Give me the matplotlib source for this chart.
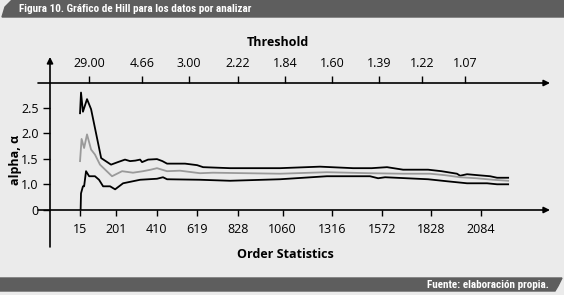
import numpy as np
import matplotlib
matplotlib.use("Agg")
import matplotlib.pyplot as plt
from matplotlib.patches import Polygon
from matplotlib import font_manager

plt.rcParams['font.family'] = ['Open Sans', 'DejaVu Sans']

# Hill plot data (order statistic k, alpha)
upper_k = [15, 20, 30, 51, 72, 124, 175, 210, 247, 273, 300, 325, 335, 366, 412, 440, 464,
           557, 619, 650, 789, 1047, 1253, 1424, 1520, 1599, 1682, 1811, 1880, 1960, 1976,
           2012, 2070, 2131, 2167, 2224]
upper_a = [2.40, 2.81, 2.43, 2.68, 2.48, 1.51, 1.38, 1.43, 1.48, 1.45, 1.46, 1.48, 1.43, 1.48,
           1.49, 1.45, 1.40, 1.40, 1.37, 1.33, 1.31, 1.31, 1.34, 1.31, 1.31, 1.33, 1.28, 1.28,
           1.25, 1.20, 1.16, 1.19, 1.17, 1.15, 1.12, 1.12]

mid_k = [15, 23, 36, 51, 72, 92, 118, 134, 180, 232, 288, 340, 380, 412, 464, 531, 634, 701,
         1047, 1289, 1511, 1682, 1821, 1900, 1976, 2060, 2146, 2224]
mid_a = [1.45, 1.89, 1.71, 1.98, 1.68, 1.58, 1.38, 1.32, 1.15, 1.25, 1.22, 1.25, 1.28, 1.31,
         1.25, 1.26, 1.21, 1.22, 1.20, 1.23, 1.21, 1.20, 1.20, 1.17, 1.13, 1.11, 1.08, 1.06]

lower_k = [15, 20, 30, 36, 46, 62, 92, 113, 134, 170, 196, 237, 325, 412, 443, 464, 634, 789,
           1047, 1289, 1511, 1553, 1589, 1700, 1811, 1909, 2012, 2115, 2167, 2224]
lower_a = [0.0, 0.81, 0.95, 0.95, 1.25, 1.15, 1.15, 1.08, 0.95, 0.95, 0.89, 1.01, 1.08, 1.10,
           1.13, 1.09, 1.08, 1.06, 1.09, 1.15, 1.15, 1.11, 1.13, 1.11, 1.09, 1.05, 1.01, 1.01,
           0.99, 0.99]

order_ticks = [15, 201, 410, 619, 828, 1060, 1316, 1572, 1828, 2084]
thr_pos = [61, 335, 577, 830, 1073, 1315, 1558, 1780, 2002]
thr_labels = ['29.00', '4.66', '3.00', '2.22', '1.84', '1.60', '1.39', '1.22', '1.07']
y_ticks = [0.48, 1.0, 1.5, 2.0, 2.5]
y_labels = ['0', '1.0', '1.5', '2.0', '2.5']

W, H = 564, 295
bg = '#ebebeb'
bar = '#5e5e5e'

# pick a narrow face for the header/footer if one is installed
names = {f.name for f in font_manager.fontManager.ttflist}
narrow = [n for n in ['Roboto Condensed', 'Open Sans Condensed', 'Liberation Sans Narrow',
                      'DejaVu Sans Condensed'] if n in names]
band_family = narrow + ['Roboto', 'DejaVu Sans']
band_size = 8 if narrow else 7

fig = plt.figure(figsize=(W / 100, H / 100), dpi=100, facecolor=bg)

# header and footer bands (pixel coords -> figure fraction)
def px(points):
    return [(x / W, 1 - y / H) for x, y in points]

fig.patches.append(Polygon(px([(2, 17), (5, 7), (12, 0), (W, 0), (W, 17)]),
                           closed=True, transform=fig.transFigure, color=bar, zorder=0))
fig.patches.append(Polygon(px([(0, 278), (562, 278), (558, 286), (555, 291), (0, 291)]),
                           closed=True, transform=fig.transFigure, color=bar, zorder=0))
fig.text(19 / W, 1 - 8.5 / H, 'Figura 10. Gráfico de Hill para los datos por analizar',
         color='white', fontsize=band_size, fontweight='bold', va='center', ha='left',
         family=band_family, fontstretch='condensed')
fig.text(549 / W, 1 - 284.5 / H, 'Fuente: elaboración propia.',
         color='white', fontsize=band_size, fontweight='bold', va='center', ha='right',
         family=band_family, fontstretch='condensed')

# main axes: x from 50 to 550 px, y from 83 to 210 px
ax = fig.add_axes([50 / W, 1 - 210 / H, 500 / W, 127 / H])
ax.set_facecolor('none')
ax.set_xlim(-140, 2440)
ax.set_ylim(0.48, 3.0)
for s in ax.spines.values():
    s.set_visible(False)

ax.plot(upper_k, upper_a, color='black', lw=1.3)
ax.plot(mid_k, mid_a, color='#9a9a9a', lw=1.3)
ax.plot(lower_k, lower_a, color='black', lw=1.3)

ax.set_xticks(order_ticks)
ax.set_xticklabels([str(t) for t in order_ticks])
ax.tick_params(axis='x', direction='out', length=4.5, width=1, pad=5, labelsize=9)
ax.set_yticks(y_ticks)
ax.set_yticklabels(y_labels)
ax.tick_params(axis='y', direction='out', length=5, width=1, pad=3, labelsize=9)

top = ax.secondary_xaxis('top')
top.set_xticks(thr_pos)
top.set_xticklabels(thr_labels)
top.tick_params(direction='out', length=5, width=1, pad=4, labelsize=9)
top.spines['top'].set_visible(False)

# axis lines with arrows
arrow = dict(arrowstyle='-|>', color='black', lw=1.2, mutation_scale=9, shrinkA=0, shrinkB=0)
ax.annotate('', xy=(1.0, 0), xytext=(-0.024, 0), xycoords='axes fraction',
            arrowprops=arrow, annotation_clip=False)
ax.annotate('', xy=(1.0, 1), xytext=(-0.024, 1), xycoords='axes fraction',
            arrowprops=arrow, annotation_clip=False)
ax.annotate('', xy=(0, 1.205), xytext=(0, -0.291), xycoords='axes fraction',
            arrowprops=arrow, annotation_clip=False)

fig.text(278 / W, 1 - 42 / H, 'Threshold', fontsize=9, fontweight='bold',
         ha='center', va='center')
fig.text(285 / W, 1 - 255 / H, 'Order Statistics', fontsize=9, fontweight='bold',
         ha='center', va='center')
fig.text(15 / W, 1 - 160 / H, 'alpha, α', fontsize=9, fontweight='bold',
         ha='center', va='center', rotation=90)

fig.savefig('out.png', dpi=100, facecolor=bg)
